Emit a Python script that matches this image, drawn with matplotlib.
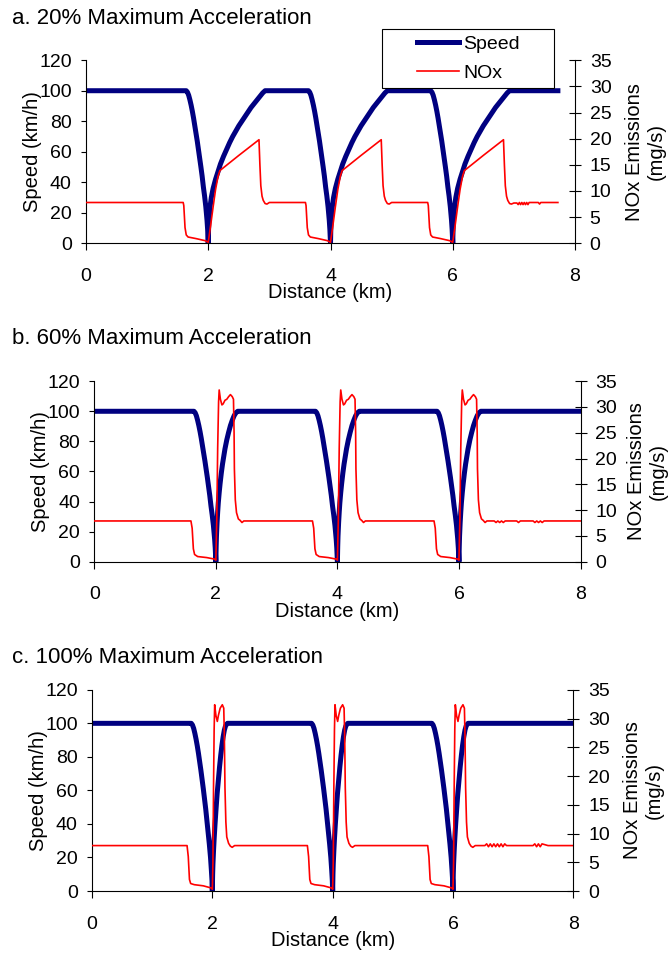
import matplotlib.pyplot as plt
from matplotlib.patches import Rectangle

plt.rcParams['font.family'] = ['Liberation Sans', 'DejaVu Sans']

# ---------------- data ----------------
titles = ['a. 20% Maximum Acceleration',
          'b. 60% Maximum Acceleration',
          'c. 100% Maximum Acceleration']
dist_ticks = [0, 2, 4, 6, 8]
speed_ticks = [0, 20, 40, 60, 80, 100, 120]
nox_ticks = [0, 5, 10, 15, 20, 25, 30, 35]
legend_labels = ['Speed', 'NOx']

# a. 20 % acceleration
a_speed_km = [0.00,
              1.64, 1.66, 1.68, 1.70, 1.72, 1.74, 1.76, 1.78, 1.80, 1.82, 1.84, 1.86, 1.88, 1.90,
              1.92, 1.94, 1.96, 1.98, 1.99, 2.00,
              2.005, 2.015, 2.03, 2.05, 2.08, 2.12, 2.16, 2.20, 2.25, 2.30, 2.35, 2.40, 2.45,
              2.50, 2.55, 2.60, 2.65, 2.70, 2.75, 2.80, 2.85, 2.89, 2.93,
              3.64, 3.66, 3.68, 3.70, 3.72, 3.74, 3.76, 3.78, 3.80, 3.82, 3.84, 3.86, 3.88, 3.90,
              3.92, 3.94, 3.96, 3.98, 3.99, 4.00,
              4.005, 4.015, 4.03, 4.05, 4.08, 4.12, 4.16, 4.20, 4.25, 4.30, 4.35, 4.40, 4.45,
              4.50, 4.55, 4.60, 4.65, 4.70, 4.75, 4.80, 4.85, 4.89, 4.93,
              5.64, 5.66, 5.68, 5.70, 5.72, 5.74, 5.76, 5.78, 5.80, 5.82, 5.84, 5.86, 5.88, 5.90,
              5.92, 5.94, 5.96, 5.98, 5.99, 6.00,
              6.005, 6.015, 6.03, 6.05, 6.08, 6.12, 6.16, 6.20, 6.25, 6.30, 6.35, 6.40, 6.45,
              6.50, 6.55, 6.60, 6.65, 6.70, 6.75, 6.80, 6.85, 6.89, 6.93,
              7.72]
a_speed = [100,
           100, 99, 97, 94, 90.5, 86.5, 82, 77, 72, 67, 61.5, 56, 50, 44,
           37, 31, 24, 15, 9, 0,
           9, 17, 24, 30, 36, 42, 47, 52, 57, 61.5, 66, 70, 73.5,
           77, 80, 83, 86, 89, 91.5, 94, 96.5, 98.5, 100,
           100, 99, 97, 94, 90.5, 86.5, 82, 77, 72, 67, 61.5, 56, 50, 44,
           37, 31, 24, 15, 9, 0,
           9, 17, 24, 30, 36, 42, 47, 52, 57, 61.5, 66, 70, 73.5,
           77, 80, 83, 86, 89, 91.5, 94, 96.5, 98.5, 100,
           100, 99, 97, 94, 90.5, 86.5, 82, 77, 72, 67, 61.5, 56, 50, 44,
           37, 31, 24, 15, 9, 0,
           9, 17, 24, 30, 36, 42, 47, 52, 57, 61.5, 66, 70, 73.5,
           77, 80, 83, 86, 89, 91.5, 94, 96.5, 98.5, 100,
           100]
a_nox_km = [0.00, 1.59, 1.60, 1.62, 1.64, 1.67, 1.80, 1.95, 2.00,
            2.04, 2.08, 2.12, 2.16, 2.19, 2.50, 2.83, 2.845, 2.86, 2.88, 2.90, 2.93, 2.96, 3.00,
            3.59, 3.60, 3.62, 3.64, 3.67, 3.80, 3.95, 4.00,
            4.04, 4.08, 4.12, 4.16, 4.19, 4.50, 4.83, 4.845, 4.86, 4.88, 4.90, 4.93, 4.96, 5.00,
            5.59, 5.60, 5.62, 5.64, 5.67, 5.80, 5.95, 6.00,
            6.04, 6.08, 6.12, 6.16, 6.19, 6.50, 6.83, 6.845, 6.86, 6.88, 6.90, 6.93, 6.96, 7.00,
            7.05, 7.07, 7.09, 7.11, 7.13, 7.15, 7.17, 7.19, 7.21, 7.23, 7.25, 7.40, 7.42, 7.44, 7.72]
a_nox = [7.8, 7.8, 7.2, 3.0, 1.6, 1.2, 0.9, 0.5, 0.2,
         3.5, 7.0, 10.3, 12.8, 13.9, 16.8, 19.8, 15.0, 11.0, 9.0, 8.2, 7.6, 7.5, 7.8,
         7.8, 7.2, 3.0, 1.6, 1.2, 0.9, 0.5, 0.2,
         3.5, 7.0, 10.3, 12.8, 13.9, 16.8, 19.8, 15.0, 11.0, 9.0, 8.2, 7.6, 7.5, 7.8,
         7.8, 7.2, 3.0, 1.6, 1.2, 0.9, 0.5, 0.2,
         3.5, 7.0, 10.3, 12.8, 13.9, 16.8, 19.8, 15.0, 11.0, 9.0, 8.2, 7.6, 7.5, 7.7,
         7.7, 7.4, 7.8, 7.4, 7.8, 7.4, 7.8, 7.4, 7.8, 7.4, 7.8, 7.8, 7.5, 7.8, 7.8]

# b. 60 % acceleration
b_speed_km = [0.00,
              1.64, 1.66, 1.68, 1.70, 1.72, 1.74, 1.76, 1.78, 1.80, 1.82, 1.84, 1.86, 1.88, 1.90,
              1.92, 1.94, 1.96, 1.98, 1.99, 2.00,
              2.005, 2.01, 2.02, 2.03, 2.04, 2.055, 2.07, 2.09, 2.11, 2.13, 2.15, 2.18, 2.21,
              2.24, 2.27, 2.30, 2.33, 2.36,
              3.64, 3.66, 3.68, 3.70, 3.72, 3.74, 3.76, 3.78, 3.80, 3.82, 3.84, 3.86, 3.88, 3.90,
              3.92, 3.94, 3.96, 3.98, 3.99, 4.00,
              4.005, 4.01, 4.02, 4.03, 4.04, 4.055, 4.07, 4.09, 4.11, 4.13, 4.15, 4.18, 4.21,
              4.24, 4.27, 4.30, 4.33, 4.36,
              5.64, 5.66, 5.68, 5.70, 5.72, 5.74, 5.76, 5.78, 5.80, 5.82, 5.84, 5.86, 5.88, 5.90,
              5.92, 5.94, 5.96, 5.98, 5.99, 6.00,
              6.005, 6.01, 6.02, 6.03, 6.04, 6.055, 6.07, 6.09, 6.11, 6.13, 6.15, 6.18, 6.21,
              6.24, 6.27, 6.30, 6.33, 6.36,
              8.00]
b_speed = [100,
           100, 99, 97, 94, 90.5, 86.5, 82, 77, 72, 67, 61.5, 56, 50, 44,
           37, 31, 24, 15, 9, 0,
           10, 17, 26, 33, 39, 46, 52, 59, 65, 70, 75, 81, 86,
           90.5, 94, 97, 99, 100,
           100, 99, 97, 94, 90.5, 86.5, 82, 77, 72, 67, 61.5, 56, 50, 44,
           37, 31, 24, 15, 9, 0,
           10, 17, 26, 33, 39, 46, 52, 59, 65, 70, 75, 81, 86,
           90.5, 94, 97, 99, 100,
           100, 99, 97, 94, 90.5, 86.5, 82, 77, 72, 67, 61.5, 56, 50, 44,
           37, 31, 24, 15, 9, 0,
           10, 17, 26, 33, 39, 46, 52, 59, 65, 70, 75, 81, 86,
           90.5, 94, 97, 99, 100,
           100]
b_nox_km = [0.00, 1.59, 1.61, 1.63, 1.65, 1.70, 1.85, 1.98, 2.00,
            2.015, 2.03, 2.045, 2.055, 2.075, 2.10, 2.12, 2.15, 2.18, 2.21, 2.24, 2.27, 2.29,
            2.30, 2.305, 2.32, 2.34, 2.37, 2.40, 2.43, 2.46,
            3.59, 3.61, 3.63, 3.65, 3.70, 3.85, 3.98, 4.00,
            4.015, 4.03, 4.045, 4.055, 4.075, 4.10, 4.12, 4.15, 4.18, 4.21, 4.24, 4.27, 4.29,
            4.30, 4.305, 4.32, 4.34, 4.37, 4.40, 4.43, 4.46,
            5.59, 5.61, 5.63, 5.65, 5.70, 5.85, 5.98, 6.00,
            6.015, 6.03, 6.045, 6.055, 6.075, 6.10, 6.12, 6.15, 6.18, 6.21, 6.24, 6.27, 6.29,
            6.30, 6.305, 6.32, 6.34, 6.37, 6.40, 6.43, 6.46,
            6.58, 6.61, 6.64, 6.67, 6.70, 6.73, 6.76, 6.95, 6.98, 7.01,
            7.22, 7.25, 7.28, 7.31, 7.34, 7.37, 7.40, 8.00]
b_nox = [7.9, 7.9, 6.5, 2.5, 1.4, 1.0, 0.8, 0.5, 0.3,
         8.0, 22.0, 31.0, 33.3, 31.5, 30.4, 30.6, 31.3, 31.5, 32.0, 32.4, 32.0, 31.5,
         25.0, 18.0, 12.0, 9.5, 8.3, 8.0, 7.6, 7.9,
         7.9, 6.5, 2.5, 1.4, 1.0, 0.8, 0.5, 0.3,
         8.0, 22.0, 31.0, 33.3, 31.5, 30.4, 30.6, 31.3, 31.5, 32.0, 32.4, 32.0, 31.5,
         25.0, 18.0, 12.0, 9.5, 8.3, 8.0, 7.6, 7.9,
         7.9, 6.5, 2.5, 1.4, 1.0, 0.8, 0.5, 0.3,
         8.0, 22.0, 31.0, 33.3, 31.5, 30.4, 30.6, 31.3, 31.5, 32.0, 32.4, 32.0, 31.5,
         25.0, 18.0, 12.0, 9.5, 8.3, 8.0, 7.6, 7.9,
         7.9, 7.6, 7.9, 7.6, 7.9, 7.6, 7.9, 7.9, 7.6, 7.9,
         7.9, 7.6, 7.9, 7.6, 7.9, 7.6, 7.9, 7.9]

# c. 100 % acceleration
c_speed_km = [0.00,
              1.65, 1.67, 1.69, 1.71, 1.73, 1.75, 1.77, 1.79, 1.81, 1.83, 1.85, 1.87, 1.89, 1.91,
              1.93, 1.95, 1.97, 1.985, 1.995, 2.00,
              2.005, 2.01, 2.02, 2.03, 2.045, 2.06, 2.08, 2.10, 2.12, 2.14, 2.16, 2.18, 2.20,
              2.22, 2.25,
              3.65, 3.67, 3.69, 3.71, 3.73, 3.75, 3.77, 3.79, 3.81, 3.83, 3.85, 3.87, 3.89, 3.91,
              3.93, 3.95, 3.97, 3.985, 3.995, 4.00,
              4.005, 4.01, 4.02, 4.03, 4.045, 4.06, 4.08, 4.10, 4.12, 4.14, 4.16, 4.18, 4.20,
              4.22, 4.25,
              5.65, 5.67, 5.69, 5.71, 5.73, 5.75, 5.77, 5.79, 5.81, 5.83, 5.85, 5.87, 5.89, 5.91,
              5.93, 5.95, 5.97, 5.985, 5.995, 6.00,
              6.005, 6.01, 6.02, 6.03, 6.045, 6.06, 6.08, 6.10, 6.12, 6.14, 6.16, 6.18, 6.20,
              6.22, 6.25,
              8.00]
c_speed = [100,
           100, 99, 97, 94, 90.5, 86.5, 82, 77, 72, 66.5, 61, 55, 49, 42,
           35, 28, 20, 12, 6, 0,
           10, 16, 24, 31, 40, 48, 58, 66, 74, 81, 87, 92, 96,
           98.5, 100,
           100, 99, 97, 94, 90.5, 86.5, 82, 77, 72, 66.5, 61, 55, 49, 42,
           35, 28, 20, 12, 6, 0,
           10, 16, 24, 31, 40, 48, 58, 66, 74, 81, 87, 92, 96,
           98.5, 100,
           100, 99, 97, 94, 90.5, 86.5, 82, 77, 72, 66.5, 61, 55, 49, 42,
           35, 28, 20, 12, 6, 0,
           10, 16, 24, 31, 40, 48, 58, 66, 74, 81, 87, 92, 96,
           98.5, 100,
           100]
c_nox_km = [0.00, 1.58, 1.60, 1.62, 1.64, 1.70, 1.85, 1.99, 2.00,
            2.01, 2.02, 2.03, 2.039, 2.06, 2.083, 2.10, 2.13, 2.166, 2.19,
            2.20, 2.21, 2.225, 2.24, 2.27, 2.30, 2.33, 2.37,
            3.58, 3.60, 3.62, 3.64, 3.70, 3.85, 3.99, 4.00,
            4.01, 4.02, 4.03, 4.039, 4.06, 4.083, 4.10, 4.13, 4.166, 4.19,
            4.20, 4.21, 4.225, 4.24, 4.27, 4.30, 4.33, 4.37,
            5.58, 5.60, 5.62, 5.64, 5.70, 5.85, 5.99, 6.00,
            6.01, 6.02, 6.03, 6.039, 6.06, 6.083, 6.10, 6.13, 6.166, 6.19,
            6.20, 6.21, 6.225, 6.24, 6.27, 6.30, 6.33, 6.37,
            6.53, 6.56, 6.59, 6.62, 6.65, 6.68, 6.71, 6.74, 6.77, 6.80, 6.83, 6.86, 6.89,
            7.17, 7.33, 7.36, 7.39, 7.42, 7.45, 7.48, 7.58, 8.00]
c_nox = [7.9, 7.9, 6.0, 2.0, 1.3, 1.1, 0.9, 0.5, 0.3,
         5.0, 18.0, 28.0, 32.4, 30.5, 29.5, 30.5, 31.8, 32.4, 31.8,
         27.0, 18.0, 12.0, 9.4, 8.3, 7.8, 7.6, 7.9,
         7.9, 6.0, 2.0, 1.3, 1.1, 0.9, 0.5, 0.3,
         5.0, 18.0, 28.0, 32.4, 30.5, 29.5, 30.5, 31.8, 32.4, 31.8,
         27.0, 18.0, 12.0, 9.4, 8.3, 7.8, 7.6, 7.9,
         7.9, 6.0, 2.0, 1.3, 1.1, 0.9, 0.5, 0.3,
         5.0, 18.0, 28.0, 32.4, 30.5, 29.5, 30.5, 31.8, 32.4, 31.8,
         27.0, 18.0, 12.0, 9.4, 8.3, 7.8, 7.6, 7.9,
         7.9, 8.2, 7.7, 8.2, 7.7, 8.2, 7.7, 8.2, 7.7, 8.2, 7.7, 8.2, 7.9,
         7.9, 7.9, 8.2, 7.7, 8.2, 7.7, 8.2, 7.9, 7.9]

# ---------------- figure ----------------
W, H = 669, 955
fig = plt.figure(figsize=(W / 100, H / 100), dpi=100)

# pixel boxes: left, right, top, bottom, title baseline, speed label x, nox label x
boxes = [
    (86, 575, 60.2, 243.3, 24, 33, 645),
    (94.3, 580.5, 381.2, 561.7, 344, 41, 647.5),
    (92, 573.3, 689.8, 891, 663, 39, 643),
]
series = [(a_speed_km, a_speed, a_nox_km, a_nox),
          (b_speed_km, b_speed, b_nox_km, b_nox),
          (c_speed_km, c_speed, c_nox_km, c_nox)]

handles = None
for title, (sk, sv, nk, nv), (l, r, t, b, ty, slx, nlx) in zip(titles, series, boxes):
    ax = fig.add_axes([l / W, 1 - b / H, (r - l) / W, (b - t) / H])
    ax2 = ax.twinx()
    l1, = ax.plot(sk, sv, color='#000080', lw=3.6, solid_joinstyle='round')
    l2, = ax2.plot(nk, nv, color='#ff0000', lw=1.2, solid_joinstyle='round')
    if handles is None:
        handles = [l1, l2]

    ax.set_xlim(0, 8)
    ax.set_ylim(0, 120)
    ax2.set_ylim(0, 35)
    ax.set_xticks(dist_ticks)
    ax.set_yticks(speed_ticks)
    ax2.set_yticks(nox_ticks)

    for s in ['top', 'right']:
        ax.spines[s].set_visible(False)
    for s in ['top', 'left', 'bottom']:
        ax2.spines[s].set_visible(False)
    for sp in list(ax.spines.values()) + list(ax2.spines.values()):
        sp.set_linewidth(0.8)

    ax.tick_params(axis='y', direction='out', length=3.8, width=0.8, pad=6.5, labelsize=14)
    ax.tick_params(axis='x', direction='out', length=5, width=0.8, pad=12.7, labelsize=14)
    ax2.tick_params(axis='y', direction='inout', length=8.6, width=0.8, pad=6.3, labelsize=14)

    yc = 1 - (t + b) / 2 / H
    fig.text(12 / W, 1 - ty / H, title, fontsize=16, va='baseline', ha='left')
    fig.text(slx / W, yc, 'Speed (km/h)', fontsize=14.5, rotation=90, ha='center', va='center')
    fig.text(nlx / W, yc, 'NOx Emissions\n(mg/s)', fontsize=14.5, rotation=90,
             ha='center', va='center', multialignment='center')
    fig.text((l + r) / 2 / W, 1 - (b + 49.5) / H, 'Distance (km)', fontsize=14.5,
             ha='center', va='center')

# legend box sits over the top of panel a
box = Rectangle((382 / W, 1 - 88 / H), 172 / W, 59 / H, transform=fig.transFigure,
                facecolor='white', edgecolor='black', lw=0.8, zorder=4)
fig.add_artist(box)
fig.legend(handles, legend_labels, loc='center left', bbox_to_anchor=(417 / W, 1 - 58.5 / H),
           frameon=False, fontsize=14, handlelength=2.16, handletextpad=0.2,
           labelspacing=0.61, borderpad=0, borderaxespad=0)

fig.savefig('out.png', dpi=100)
